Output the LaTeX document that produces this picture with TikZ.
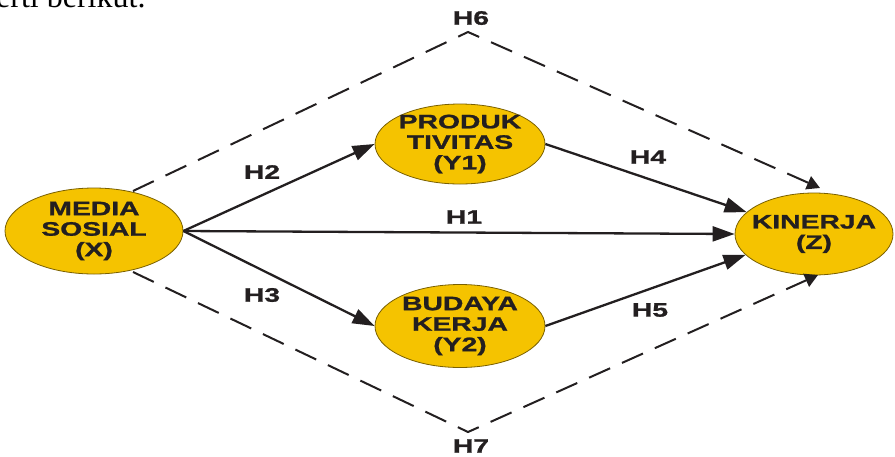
\documentclass[tikz,border=0pt]{standalone}
\usepackage{fontspec}
\setmainfont{Liberation Serif}
\newfontfamily\lblfont[FakeStretch=1.45,FakeBold=1.2]{Liberation Sans Bold}
\usetikzlibrary{arrows.meta,shapes.geometric}
\definecolor{ellfill}{HTML}{F5C300}
\definecolor{ellline}{HTML}{7A6000}
\definecolor{txt}{HTML}{231F20}
\begin{document}
\begin{tikzpicture}[x=1pt,y=-1pt,
  ell/.style={ellipse, draw=ellline, line width=0.8pt, fill=ellfill, inner sep=-40pt,
    text=txt, font=\lblfont\fontsize{19.5}{20.5}\selectfont, align=center},
  hlab/.style={text=txt, font=\lblfont\fontsize{19.5}{20.5}\selectfont, inner sep=0pt},
  conn/.style={line width=2.3pt, draw=txt, -{Triangle[length=22pt,width=15pt]}},
  dconn/.style={line width=2pt, draw=txt, dash pattern=on 23pt off 13pt,
    -{Triangle[length=13pt,width=14pt]}}]
\useasboundingbox (0,0) rectangle (895,456);
\fill[white] (0,0) rectangle (895,456);
\begin{scope}
  \clip (0,0) rectangle (895,456);
  \node[anchor=base west, font=\fontsize{32}{32}\selectfont, inner sep=0pt] (cap) at (-4,7) {erti berikut.};
\end{scope}
% nodes
\node[ell, minimum width=178pt, minimum height=86pt] (ms) at (94,231) {MEDIA\\SOSIAL\\(X)};
\node[ell, minimum width=170pt, minimum height=80pt] (py) at (460,144) {PRODUK\\TIVITAS\\(Y1)};
\node[ell, minimum width=170pt, minimum height=83pt] (bk) at (460,326) {BUDAYA\\KERJA\\(Y2)};
\node[ell, minimum width=158pt, minimum height=82pt] (kz) at (814,234) {KINERJA\\(Z)};
% dashed paths
\coordinate (h6s) at (133,191);
\coordinate (h6a) at (468,32);
\coordinate (h6e) at (820,188);
\coordinate (h7s) at (133,272);
\coordinate (h7a) at (468,432);
\coordinate (h7e) at (818,275);
\draw[dconn] (h6s) -- (h6a) -- (h6e);
\draw[dconn] (h7s) -- (h7a) -- (h7e);
% solid arrows
\draw[conn] (ms.east) -- (py.west);
\draw[conn] (ms.east) -- (bk.west);
\draw[conn] (ms.east) -- (kz.west);
\draw[conn] (py.east) -- (kz.162);
\draw[conn] (bk.east) -- (kz.197);
% labels
\node[hlab] (l1) at (464,217) {H1};
\node[hlab] (l2) at (262,172) {H2};
\node[hlab] (l3) at (262,295) {H3};
\node[hlab] (l4) at (648,157) {H4};
\node[hlab] (l5) at (650,310) {H5};
\node[hlab] (l6) at (471,18) {H6};
\node[hlab] (l7) at (471,446) {H7};
\end{tikzpicture}
\end{document}
